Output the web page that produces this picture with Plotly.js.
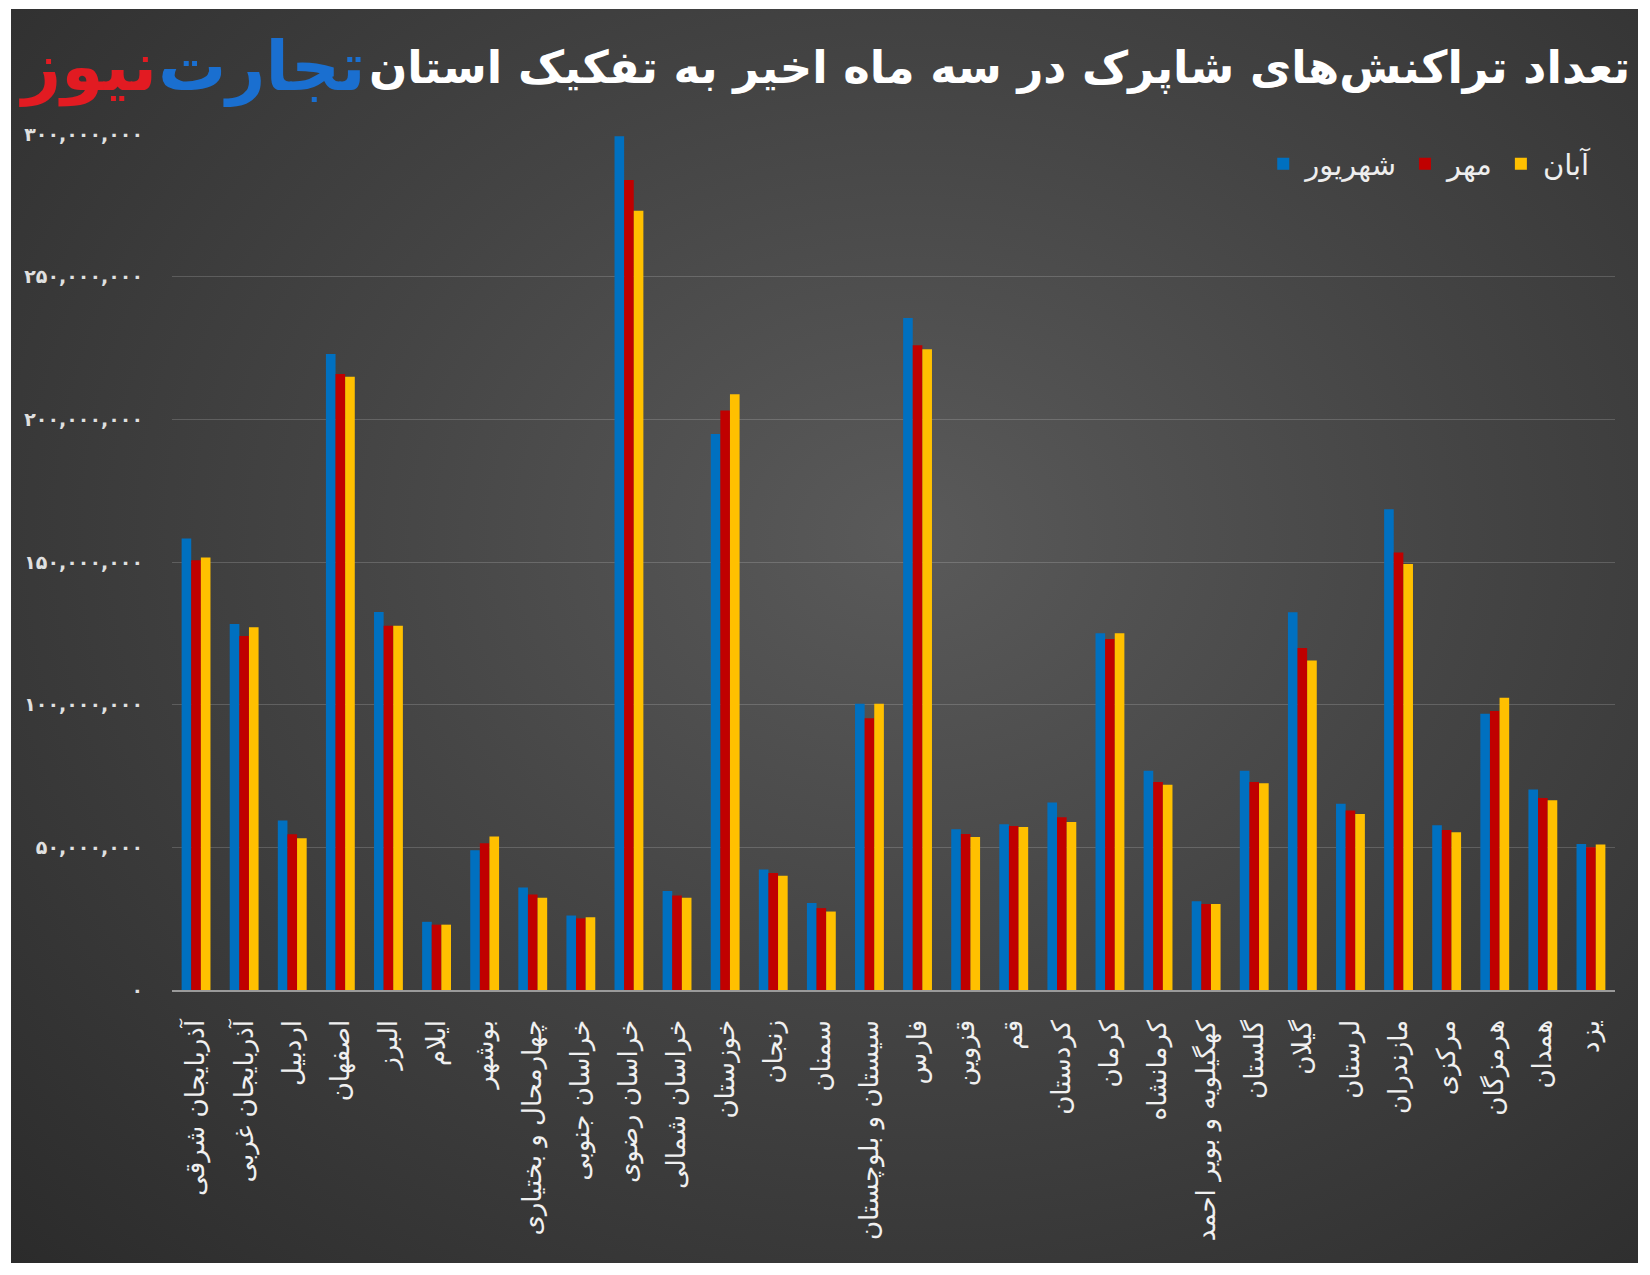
<!DOCTYPE html>
<html>
<head>
<meta charset="utf-8">
<script src="https://cdn.plot.ly/plotly-3.0.1.min.js"></script>
<style>
  html, body { margin: 0; padding: 0; background: #ffffff; }
  #wrap { position: relative; width: 1650px; height: 1275px; background: #ffffff; }
  #bg {
    position: absolute; left: 11px; top: 9px; width: 1627px; height: 1254px;
    background: radial-gradient(ellipse at 55% 42%, #5a5a5a 0%, #444444 45%, #2b2b2b 100%);
  }
  #chart { position: absolute; left: 0; top: 0; width: 1650px; height: 1275px; }
</style>
</head>
<body>
<div id="wrap">
  <div id="bg"></div>
  <div id="chart"></div>
</div>
<script>
// provinces, in the order they appear left to right
const provinces = [
  "آذربایجان شرقی", "آذربایجان غربی", "اردبیل", "اصفهان", "البرز",
  "ایلام", "بوشهر", "چهارمحال و بختیاری", "خراسان جنوبی", "خراسان رضوی",
  "خراسان شمالی", "خوزستان", "زنجان", "سمنان", "سیستان و بلوچستان",
  "فارس", "قزوین", "قم", "کردستان", "کرمان",
  "کرمانشاه", "کهگیلویه و بویر احمد", "گلستان", "گیلان", "لرستان",
  "مازندران", "مرکزی", "هرمزگان", "همدان", "یزد"
];

// transactions count (millions)
const shahrivar = [
  158.2, 128.3, 59.4, 222.9, 132.5,
  23.9, 49.0, 35.9, 26.1, 299.2,
  34.7, 194.9, 42.2, 30.5, 100.3,
  235.5, 56.3, 58.1, 65.7, 125.0,
  76.8, 31.1, 76.8, 132.4, 65.3,
  168.5, 57.7, 96.8, 70.3, 51.2
];
const mehr = [
  150.6, 124.1, 54.6, 215.9, 127.7,
  22.9, 51.4, 33.5, 25.1, 283.9,
  33.1, 203.1, 41.0, 28.7, 95.2,
  226.0, 54.7, 57.5, 60.5, 123.0,
  72.9, 30.1, 72.9, 119.9, 62.9,
  153.3, 56.1, 97.8, 67.3, 50.0
];
const aban = [
  151.6, 127.1, 53.2, 214.9, 127.7,
  22.9, 53.8, 32.3, 25.5, 273.1,
  32.3, 208.8, 40.0, 27.5, 100.3,
  224.6, 53.6, 57.1, 58.9, 125.0,
  71.9, 30.1, 72.5, 115.5, 61.7,
  149.3, 55.3, 102.4, 66.5, 51.0
];

const seriesNames = ["شهریور", "مهر", "آبان"];
const seriesColors = ["#0070C0", "#C00000", "#FFC000"];

const yTickVals = [0, 50e6, 100e6, 150e6, 200e6, 250e6, 300e6];
const yTickText = ["۰", "۵۰,۰۰۰,۰۰۰", "۱۰۰,۰۰۰,۰۰۰", "۱۵۰,۰۰۰,۰۰۰",
                   "۲۰۰,۰۰۰,۰۰۰", "۲۵۰,۰۰۰,۰۰۰", "۳۰۰,۰۰۰,۰۰۰"];

const titleText = "تعداد تراکنش‌های شاپرک در سه ماه اخیر به تفکیک استان";
const logoBlue = "تجارت";
const logoRed = "نیوز";

const FONT = "DejaVu Sans, sans-serif";

const traces = [shahrivar, mehr, aban].map(function (vals, i) {
  return {
    type: "bar",
    name: seriesNames[i],
    x: provinces,
    y: vals.map(function (v) { return v * 1e6; }),
    marker: { color: seriesColors[i], line: { width: 0 } },
    hoverinfo: "skip"
  };
});

const layout = {
  width: 1650,
  height: 1275,
  paper_bgcolor: "rgba(0,0,0,0)",
  plot_bgcolor: "rgba(0,0,0,0)",
  margin: { l: 172, r: 35, t: 134, b: 285, pad: 0 },
  barmode: "group",
  bargap: 0.4,
  bargroupgap: 0,
  font: { family: FONT, color: "#eeeeee" },
  showlegend: true,
  legend: {
    orientation: "h",
    x: 0.987, xanchor: "right",
    y: 0.965, yanchor: "middle",
    font: { size: 29, color: "#eeeeee", family: FONT },
    bgcolor: "rgba(0,0,0,0)",
    itemwidth: 34,
    traceorder: "normal"
  },
  title: {
    text: "<b>" + titleText + "</b>",
    xref: "container", x: 0.988, xanchor: "right",
    yref: "container", y: 0.947, yanchor: "middle",
    font: { size: 45, color: "#ffffff", family: FONT }
  },
  xaxis: {
    type: "category",
    tickangle: -90,
    tickfont: { size: 26, color: "#f0f0f0", family: FONT },
    showgrid: false,
    showline: true,
    linecolor: "#9a9a9a",
    linewidth: 1.5,
    ticks: "",
    ticklabelstandoff: 18,
    zeroline: false,
    fixedrange: true
  },
  yaxis: {
    range: [0, 300e6],
    tickvals: yTickVals,
    ticktext: yTickText,
    tickfont: { size: 19, color: "#e0e0e0", family: FONT, weight: "bold" },
    showgrid: true,
    gridcolor: "rgba(255,255,255,0.17)",
    gridwidth: 1,
    zeroline: false,
    ticks: "",
    ticklabelstandoff: 28,
    showline: false,
    fixedrange: true
  },
  annotations: [
    {
      text: "<b>" + logoBlue + "</b>",
      xref: "paper", yref: "paper",
      x: 0.136, y: 1.078, xanchor: "right", yanchor: "middle",
      showarrow: false,
      font: { size: 68, color: "#1a6fd0", family: FONT }
    },
    {
      text: "<b>" + logoRed + "</b>",
      xref: "paper", yref: "paper",
      x: -0.009, y: 1.078, xanchor: "right", yanchor: "middle",
      showarrow: false,
      font: { size: 68, color: "#e21b22", family: FONT }
    }
  ]
};

Plotly.newPlot("chart", traces, layout, { staticPlot: true, displayModeBar: false });
</script>
</body>
</html>
